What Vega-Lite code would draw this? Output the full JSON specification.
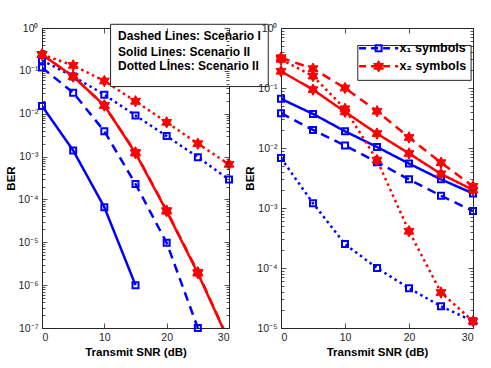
{
  "$schema": "https://vega.github.io/schema/vega-lite/v6.json",
  "autosize": {"type": "pad"},
  "padding": {"left": 5, "top": 22, "right": 5, "bottom": 5},
  "background": "white",
  "config": {
    "font": "Liberation Sans",
    "view": {"stroke": "#262626", "strokeWidth": 1},
    "axis": {"grid": false, "domainColor": "#262626", "tickColor": "#262626", "tickWidth": 0.8, "labelColor": "#262626", "labelFont": "Liberation Sans", "labelFontSize": 10.5, "titleFont": "Liberation Sans", "titleFontSize": 11.5, "titleFontWeight": "bold", "titleColor": "#000000", "labelOverlap": false}
  },
  "datasets": {
    "L": [
      {"symbol": "x1", "style": "solid", "snr": 0, "ber": 0.0152},
      {"symbol": "x1", "style": "solid", "snr": 5, "ber": 0.00139},
      {"symbol": "x1", "style": "solid", "snr": 10, "ber": 6.6e-5},
      {"symbol": "x1", "style": "solid", "snr": 15, "ber": 1.0e-6},
      {"symbol": "x1", "style": "dashed", "snr": 0, "ber": 0.119},
      {"symbol": "x1", "style": "dashed", "snr": 5, "ber": 0.031},
      {"symbol": "x1", "style": "dashed", "snr": 10, "ber": 0.0039},
      {"symbol": "x1", "style": "dashed", "snr": 15, "ber": 0.00023},
      {"symbol": "x1", "style": "dashed", "snr": 20, "ber": 9.7e-6},
      {"symbol": "x1", "style": "dashed", "snr": 25, "ber": 1.0e-7},
      {"symbol": "x1", "style": "dotted", "snr": 0, "ber": 0.176},
      {"symbol": "x1", "style": "dotted", "snr": 5, "ber": 0.074},
      {"symbol": "x1", "style": "dotted", "snr": 10, "ber": 0.0278},
      {"symbol": "x1", "style": "dotted", "snr": 15, "ber": 0.0091},
      {"symbol": "x1", "style": "dotted", "snr": 20, "ber": 0.0030},
      {"symbol": "x1", "style": "dotted", "snr": 25, "ber": 0.00097},
      {"symbol": "x1", "style": "dotted", "snr": 30, "ber": 0.00029},
      {"symbol": "x2", "style": "dotted", "snr": 0, "ber": 0.24},
      {"symbol": "x2", "style": "dotted", "snr": 5, "ber": 0.134},
      {"symbol": "x2", "style": "dotted", "snr": 10, "ber": 0.058},
      {"symbol": "x2", "style": "dotted", "snr": 15, "ber": 0.0195},
      {"symbol": "x2", "style": "dotted", "snr": 20, "ber": 0.0063},
      {"symbol": "x2", "style": "dotted", "snr": 25, "ber": 0.0020},
      {"symbol": "x2", "style": "dotted", "snr": 30, "ber": 0.00066},
      {"symbol": "x2", "style": "dashed", "snr": 0, "ber": 0.24},
      {"symbol": "x2", "style": "dashed", "snr": 5, "ber": 0.074},
      {"symbol": "x2", "style": "dashed", "snr": 10, "ber": 0.0156},
      {"symbol": "x2", "style": "dashed", "snr": 15, "ber": 0.00125},
      {"symbol": "x2", "style": "dashed", "snr": 20, "ber": 5.5e-5},
      {"symbol": "x2", "style": "dashed", "snr": 25, "ber": 2.0e-6},
      {"symbol": "x2", "style": "dashed", "snr": 30, "ber": 5.0e-8},
      {"symbol": "x2", "style": "solid", "snr": 0, "ber": 0.24},
      {"symbol": "x2", "style": "solid", "snr": 5, "ber": 0.074},
      {"symbol": "x2", "style": "solid", "snr": 10, "ber": 0.0156},
      {"symbol": "x2", "style": "solid", "snr": 15, "ber": 0.0012},
      {"symbol": "x2", "style": "solid", "snr": 20, "ber": 5.3e-5},
      {"symbol": "x2", "style": "solid", "snr": 25, "ber": 1.9e-6},
      {"symbol": "x2", "style": "solid", "snr": 30, "ber": 4.8e-8}
    ],
    "R": [
      {"symbol": "x1", "style": "solid", "snr": 0, "ber": 0.066},
      {"symbol": "x1", "style": "solid", "snr": 5, "ber": 0.037},
      {"symbol": "x1", "style": "solid", "snr": 10, "ber": 0.019},
      {"symbol": "x1", "style": "solid", "snr": 15, "ber": 0.0104},
      {"symbol": "x1", "style": "solid", "snr": 20, "ber": 0.0055},
      {"symbol": "x1", "style": "solid", "snr": 25, "ber": 0.0030},
      {"symbol": "x1", "style": "solid", "snr": 30, "ber": 0.00175},
      {"symbol": "x1", "style": "dashed", "snr": 0, "ber": 0.038},
      {"symbol": "x1", "style": "dashed", "snr": 5, "ber": 0.020},
      {"symbol": "x1", "style": "dashed", "snr": 10, "ber": 0.011},
      {"symbol": "x1", "style": "dashed", "snr": 15, "ber": 0.0058},
      {"symbol": "x1", "style": "dashed", "snr": 20, "ber": 0.0030},
      {"symbol": "x1", "style": "dashed", "snr": 25, "ber": 0.0016},
      {"symbol": "x1", "style": "dashed", "snr": 30, "ber": 0.00089},
      {"symbol": "x1", "style": "dotted", "snr": 0, "ber": 0.0068},
      {"symbol": "x1", "style": "dotted", "snr": 5, "ber": 0.0012},
      {"symbol": "x1", "style": "dotted", "snr": 10, "ber": 0.00025},
      {"symbol": "x1", "style": "dotted", "snr": 15, "ber": 0.00010},
      {"symbol": "x1", "style": "dotted", "snr": 20, "ber": 4.6e-5},
      {"symbol": "x1", "style": "dotted", "snr": 25, "ber": 2.3e-5},
      {"symbol": "x1", "style": "dotted", "snr": 30, "ber": 1.3e-5},
      {"symbol": "x2", "style": "solid", "snr": 0, "ber": 0.19},
      {"symbol": "x2", "style": "solid", "snr": 5, "ber": 0.094},
      {"symbol": "x2", "style": "solid", "snr": 10, "ber": 0.040},
      {"symbol": "x2", "style": "solid", "snr": 15, "ber": 0.0174},
      {"symbol": "x2", "style": "solid", "snr": 20, "ber": 0.0081},
      {"symbol": "x2", "style": "solid", "snr": 25, "ber": 0.0037},
      {"symbol": "x2", "style": "solid", "snr": 30, "ber": 0.0020},
      {"symbol": "x2", "style": "dashed", "snr": 0, "ber": 0.32},
      {"symbol": "x2", "style": "dashed", "snr": 5, "ber": 0.21},
      {"symbol": "x2", "style": "dashed", "snr": 10, "ber": 0.10},
      {"symbol": "x2", "style": "dashed", "snr": 15, "ber": 0.041},
      {"symbol": "x2", "style": "dashed", "snr": 20, "ber": 0.015},
      {"symbol": "x2", "style": "dashed", "snr": 25, "ber": 0.0057},
      {"symbol": "x2", "style": "dashed", "snr": 30, "ber": 0.0023},
      {"symbol": "x2", "style": "dotted", "snr": 0, "ber": 0.30},
      {"symbol": "x2", "style": "dotted", "snr": 5, "ber": 0.158},
      {"symbol": "x2", "style": "dotted", "snr": 10, "ber": 0.045},
      {"symbol": "x2", "style": "dotted", "snr": 15, "ber": 0.0063},
      {"symbol": "x2", "style": "dotted", "snr": 20, "ber": 0.00041},
      {"symbol": "x2", "style": "dotted", "snr": 25, "ber": 3.9e-5},
      {"symbol": "x2", "style": "dotted", "snr": 30, "ber": 1.3e-5}
    ],
    "boxL": [{"x": 11.0, "x2": 36.3, "y": 0.043, "y2": 1.22}],
    "textL": [
      {"label": "Dashed Lines: Scenario I", "x": 12.2, "y": 0.64},
      {"label": "Solid Lines: Scenario II", "x": 12.2, "y": 0.275},
      {"label": "Dotted Lİnes: Scenario II", "x": 12.2, "y": 0.129}
    ],
    "boxR": [{"x": 12.0, "x2": 29.7, "y": 0.134, "y2": 0.51}],
    "legR": [
      {"symbol": "x1", "x0": 12.2, "x1": 18.3, "xm": 15.25, "xt": 18.5, "y": 0.46, "label": "x₁ symbols"},
      {"symbol": "x2", "x0": 12.2, "x1": 18.3, "xm": 15.25, "xt": 18.5, "y": 0.23, "label": "x₂ symbols"}
    ]
  },
  "bounds": "flush",
  "spacing": 52,
  "hconcat": [
    {
      "width": 187,
      "height": 300,
      "resolve": {"axis": {"x": "independent", "y": "independent"}},
      "layer": [
        {
          "data": {"name": "L"},
          "mark": {"type": "line", "strokeWidth": 2.5, "clip": true},
          "encoding": {
            "x": {"field": "snr", "type": "quantitative", "scale": {"domain": [0, 30], "nice": false},
              "axis": {"orient": "bottom", "values": [0, 10, 20, 30], "tickSize": -5, "labelPadding": 9, "title": "Transmit SNR (dB)", "titlePadding": 4, "domain": false}},
            "y": {"field": "ber", "type": "quantitative", "scale": {"type": "log", "domain": [1e-7, 1], "nice": false},
              "axis": {"orient": "left", "title": "BER", "titlePadding": 1, "labelPadding": 9, "domain": false,
                "values": [1e-7,2e-7,3e-7,4e-7,5e-7,6e-7,7e-7,8e-7,9e-7,1e-6,2e-6,3e-6,4e-6,5e-6,6e-6,7e-6,8e-6,9e-6,1e-5,2e-5,3e-5,4e-5,5e-5,6e-5,7e-5,8e-5,9e-5,1e-4,2e-4,3e-4,4e-4,5e-4,6e-4,7e-4,8e-4,9e-4,1e-3,2e-3,3e-3,4e-3,5e-3,6e-3,7e-3,8e-3,9e-3,1e-2,2e-2,3e-2,4e-2,5e-2,6e-2,7e-2,8e-2,9e-2,1e-1,2e-1,3e-1,4e-1,5e-1,6e-1,7e-1,8e-1,9e-1,1],
                "labelExpr": "abs(log(datum.value)/LN10 - round(log(datum.value)/LN10)) < 0.001 ? '10' + (round(log(datum.value)/LN10) == 0 ? '⁰' : '⁻' + ['⁰','¹','²','³','⁴','⁵','⁶','⁷'][-round(log(datum.value)/LN10)]) : ''",
                "tickSize": {"condition": {"test": "abs(log(datum.value)/LN10 - round(log(datum.value)/LN10)) < 0.001", "value": -5}, "value": -3}}},
            "color": {"field": "symbol", "type": "nominal", "scale": {"domain": ["x1", "x2"], "range": ["#0000ff", "#ff0000"]}, "legend": null},
            "strokeDash": {"field": "style", "type": "nominal", "scale": {"domain": ["dashed", "solid", "dotted"], "range": [[9, 6], [1, 0], [2.5, 3.5]]}, "legend": null}
          }
        },
        {
          "data": {"name": "L"},
          "transform": [{"filter": "datum.symbol == 'x1' && datum.ber >= 1e-7"}],
          "mark": {"type": "point", "shape": "square", "filled": false, "size": 36, "strokeWidth": 2, "color": "#0000ff", "opacity": 1},
          "encoding": {
            "x": {"field": "snr", "type": "quantitative", "scale": {"domain": [0, 30], "nice": false}, "axis": null},
            "y": {"field": "ber", "type": "quantitative", "scale": {"type": "log", "domain": [1e-7, 1], "nice": false}, "axis": null}
          }
        },
        {
          "data": {"name": "L"},
          "transform": [{"filter": "datum.symbol == 'x2' && datum.ber >= 1e-7"}],
          "mark": {"type": "point", "shape": "M0,-1L0.289,-0.5L0.866,-0.5L0.577,0L0.866,0.5L0.289,0.5L0,1L-0.289,0.5L-0.866,0.5L-0.577,0L-0.866,-0.5L-0.289,-0.5Z", "filled": true, "size": 130, "fill": "#ff0000", "stroke": "#ff0000", "strokeWidth": 1, "opacity": 1},
          "encoding": {
            "x": {"field": "snr", "type": "quantitative", "scale": {"domain": [0, 30], "nice": false}, "axis": null},
            "y": {"field": "ber", "type": "quantitative", "scale": {"type": "log", "domain": [1e-7, 1], "nice": false}, "axis": null}
          }
        },
        {
          "data": {"name": "boxL"},
          "mark": {"type": "rect", "fill": "white", "stroke": "#262626", "strokeWidth": 1, "clip": false},
          "encoding": {
            "x": {"field": "x", "type": "quantitative", "scale": {"domain": [0, 30], "nice": false}, "axis": null},
            "x2": {"field": "x2"},
            "y": {"field": "y", "type": "quantitative", "scale": {"type": "log", "domain": [1e-7, 1], "nice": false}, "axis": null},
            "y2": {"field": "y2"}
          }
        },
        {
          "data": {"name": "textL"},
          "mark": {"type": "text", "align": "left", "baseline": "middle", "fontSize": 12, "fontWeight": "bold", "font": "Liberation Sans", "color": "#000000", "clip": false},
          "encoding": {
            "x": {"field": "x", "type": "quantitative", "scale": {"domain": [0, 30], "nice": false}, "axis": null},
            "y": {"field": "y", "type": "quantitative", "scale": {"type": "log", "domain": [1e-7, 1], "nice": false}, "axis": null},
            "text": {"field": "label"}
          }
        },
        {
          "data": {"name": "L"},
          "mark": {"type": "point", "opacity": 0},
          "encoding": {
            "x": {"field": "snr", "type": "quantitative", "scale": {"domain": [0, 30], "nice": false},
              "axis": {"orient": "top", "values": [0, 10, 20, 30], "tickSize": -5, "labels": false, "title": null, "domain": false, "zindex": 2}},
            "y": {"field": "ber", "type": "quantitative", "scale": {"type": "log", "domain": [1e-7, 1], "nice": false},
              "axis": {"orient": "right", "labels": false, "title": null, "domain": false, "zindex": 2,
                "values": [1e-7,2e-7,3e-7,4e-7,5e-7,6e-7,7e-7,8e-7,9e-7,1e-6,2e-6,3e-6,4e-6,5e-6,6e-6,7e-6,8e-6,9e-6,1e-5,2e-5,3e-5,4e-5,5e-5,6e-5,7e-5,8e-5,9e-5,1e-4,2e-4,3e-4,4e-4,5e-4,6e-4,7e-4,8e-4,9e-4,1e-3,2e-3,3e-3,4e-3,5e-3,6e-3,7e-3,8e-3,9e-3,1e-2,2e-2,3e-2,4e-2,5e-2,6e-2,7e-2,8e-2,9e-2,1e-1,2e-1,3e-1,4e-1,5e-1,6e-1,7e-1,8e-1,9e-1,1],
                "tickSize": {"condition": {"test": "abs(log(datum.value)/LN10 - round(log(datum.value)/LN10)) < 0.001", "value": -5}, "value": -3}}}
          }
        }
      ]
    },
    {
      "width": 192,
      "height": 300,
      "resolve": {"axis": {"x": "independent", "y": "independent"}},
      "layer": [
        {
          "data": {"name": "R"},
          "mark": {"type": "line", "strokeWidth": 2.5, "clip": true},
          "encoding": {
            "x": {"field": "snr", "type": "quantitative", "scale": {"domain": [0, 30], "nice": false},
              "axis": {"orient": "bottom", "values": [0, 10, 20, 30], "tickSize": -5, "labelPadding": 9, "title": "Transmit SNR (dB)", "titlePadding": 4, "domain": false}},
            "y": {"field": "ber", "type": "quantitative", "scale": {"type": "log", "domain": [1e-5, 1], "nice": false},
              "axis": {"orient": "left", "title": "BER", "titlePadding": 1, "labelPadding": 9, "domain": false,
                "values": [1e-5,2e-5,3e-5,4e-5,5e-5,6e-5,7e-5,8e-5,9e-5,1e-4,2e-4,3e-4,4e-4,5e-4,6e-4,7e-4,8e-4,9e-4,1e-3,2e-3,3e-3,4e-3,5e-3,6e-3,7e-3,8e-3,9e-3,1e-2,2e-2,3e-2,4e-2,5e-2,6e-2,7e-2,8e-2,9e-2,1e-1,2e-1,3e-1,4e-1,5e-1,6e-1,7e-1,8e-1,9e-1,1],
                "labelExpr": "abs(log(datum.value)/LN10 - round(log(datum.value)/LN10)) < 0.001 ? '10' + (round(log(datum.value)/LN10) == 0 ? '⁰' : '⁻' + ['⁰','¹','²','³','⁴','⁵','⁶','⁷'][-round(log(datum.value)/LN10)]) : ''",
                "tickSize": {"condition": {"test": "abs(log(datum.value)/LN10 - round(log(datum.value)/LN10)) < 0.001", "value": -5}, "value": -3}}},
            "color": {"field": "symbol", "type": "nominal", "scale": {"domain": ["x1", "x2"], "range": ["#0000ff", "#ff0000"]}, "legend": null},
            "strokeDash": {"field": "style", "type": "nominal", "scale": {"domain": ["dashed", "solid", "dotted"], "range": [[9, 6], [1, 0], [2.5, 3.5]]}, "legend": null}
          }
        },
        {
          "data": {"name": "R"},
          "transform": [{"filter": "datum.symbol == 'x1'"}],
          "mark": {"type": "point", "shape": "square", "filled": false, "size": 36, "strokeWidth": 2, "color": "#0000ff", "opacity": 1},
          "encoding": {
            "x": {"field": "snr", "type": "quantitative", "scale": {"domain": [0, 30], "nice": false}, "axis": null},
            "y": {"field": "ber", "type": "quantitative", "scale": {"type": "log", "domain": [1e-5, 1], "nice": false}, "axis": null}
          }
        },
        {
          "data": {"name": "R"},
          "transform": [{"filter": "datum.symbol == 'x2'"}],
          "mark": {"type": "point", "shape": "M0,-1L0.289,-0.5L0.866,-0.5L0.577,0L0.866,0.5L0.289,0.5L0,1L-0.289,0.5L-0.866,0.5L-0.577,0L-0.866,-0.5L-0.289,-0.5Z", "filled": true, "size": 130, "fill": "#ff0000", "stroke": "#ff0000", "strokeWidth": 1, "opacity": 1},
          "encoding": {
            "x": {"field": "snr", "type": "quantitative", "scale": {"domain": [0, 30], "nice": false}, "axis": null},
            "y": {"field": "ber", "type": "quantitative", "scale": {"type": "log", "domain": [1e-5, 1], "nice": false}, "axis": null}
          }
        },
        {
          "data": {"name": "boxR"},
          "mark": {"type": "rect", "fill": "white", "stroke": "#262626", "strokeWidth": 1, "clip": false},
          "encoding": {
            "x": {"field": "x", "type": "quantitative", "scale": {"domain": [0, 30], "nice": false}, "axis": null},
            "x2": {"field": "x2"},
            "y": {"field": "y", "type": "quantitative", "scale": {"type": "log", "domain": [1e-5, 1], "nice": false}, "axis": null},
            "y2": {"field": "y2"}
          }
        },
        {
          "data": {"name": "legR"},
          "mark": {"type": "rule", "strokeWidth": 2.5, "strokeDash": [7, 5]},
          "encoding": {
            "x": {"field": "x0", "type": "quantitative", "scale": {"domain": [0, 30], "nice": false}, "axis": null},
            "x2": {"field": "x1"},
            "y": {"field": "y", "type": "quantitative", "scale": {"type": "log", "domain": [1e-5, 1], "nice": false}, "axis": null},
            "color": {"field": "symbol", "type": "nominal", "scale": {"domain": ["x1", "x2"], "range": ["#0000ff", "#ff0000"]}, "legend": null}
          }
        },
        {
          "data": {"name": "legR"},
          "transform": [{"filter": "datum.symbol == 'x1'"}],
          "mark": {"type": "point", "shape": "square", "filled": false, "size": 36, "strokeWidth": 2, "color": "#0000ff", "opacity": 1},
          "encoding": {
            "x": {"field": "xm", "type": "quantitative", "scale": {"domain": [0, 30], "nice": false}, "axis": null},
            "y": {"field": "y", "type": "quantitative", "scale": {"type": "log", "domain": [1e-5, 1], "nice": false}, "axis": null}
          }
        },
        {
          "data": {"name": "legR"},
          "transform": [{"filter": "datum.symbol == 'x2'"}],
          "mark": {"type": "point", "shape": "M0,-1L0.289,-0.5L0.866,-0.5L0.577,0L0.866,0.5L0.289,0.5L0,1L-0.289,0.5L-0.866,0.5L-0.577,0L-0.866,-0.5L-0.289,-0.5Z", "filled": true, "size": 130, "fill": "#ff0000", "stroke": "#ff0000", "strokeWidth": 1, "opacity": 1},
          "encoding": {
            "x": {"field": "xm", "type": "quantitative", "scale": {"domain": [0, 30], "nice": false}, "axis": null},
            "y": {"field": "y", "type": "quantitative", "scale": {"type": "log", "domain": [1e-5, 1], "nice": false}, "axis": null}
          }
        },
        {
          "data": {"name": "legR"},
          "mark": {"type": "text", "align": "left", "baseline": "middle", "fontSize": 12.5, "fontWeight": "bold", "font": "Liberation Sans", "color": "#000000", "clip": false},
          "encoding": {
            "x": {"field": "xt", "type": "quantitative", "scale": {"domain": [0, 30], "nice": false}, "axis": null},
            "y": {"field": "y", "type": "quantitative", "scale": {"type": "log", "domain": [1e-5, 1], "nice": false}, "axis": null},
            "text": {"field": "label"}
          }
        },
        {
          "data": {"name": "R"},
          "mark": {"type": "point", "opacity": 0},
          "encoding": {
            "x": {"field": "snr", "type": "quantitative", "scale": {"domain": [0, 30], "nice": false},
              "axis": {"orient": "top", "values": [0, 10, 20, 30], "tickSize": -5, "labels": false, "title": null, "domain": false, "zindex": 2}},
            "y": {"field": "ber", "type": "quantitative", "scale": {"type": "log", "domain": [1e-5, 1], "nice": false},
              "axis": {"orient": "right", "labels": false, "title": null, "domain": false, "zindex": 2,
                "values": [1e-5,2e-5,3e-5,4e-5,5e-5,6e-5,7e-5,8e-5,9e-5,1e-4,2e-4,3e-4,4e-4,5e-4,6e-4,7e-4,8e-4,9e-4,1e-3,2e-3,3e-3,4e-3,5e-3,6e-3,7e-3,8e-3,9e-3,1e-2,2e-2,3e-2,4e-2,5e-2,6e-2,7e-2,8e-2,9e-2,1e-1,2e-1,3e-1,4e-1,5e-1,6e-1,7e-1,8e-1,9e-1,1],
                "tickSize": {"condition": {"test": "abs(log(datum.value)/LN10 - round(log(datum.value)/LN10)) < 0.001", "value": -5}, "value": -3}}}
          }
        }
      ]
    }
  ]
}
